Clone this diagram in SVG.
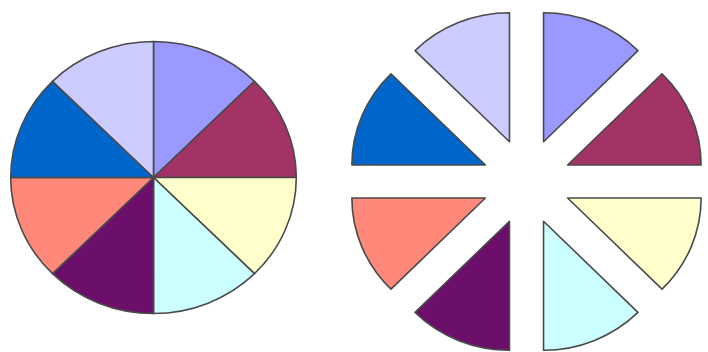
<svg xmlns="http://www.w3.org/2000/svg" width="708" height="352" viewBox="0 0 708 352">
  <style>
    .s { stroke: #4a4a4a; stroke-width: 1.6; stroke-linejoin: round; vector-effect: non-scaling-stroke; }
    .c0 { fill: #9999ff; }
    .c1 { fill: #a33366; }
    .c2 { fill: #ffffcc; }
    .c3 { fill: #ccffff; }
    .c4 { fill: #6b0f6b; }
    .c5 { fill: #ff887a; }
    .c6 { fill: #0066cc; }
    .c7 { fill: #ccccff; }
  </style>
  <rect width="708" height="352" fill="#ffffff"/>
  <g id="pie-whole" transform="translate(153.5,177.5) scale(1.05,1)">
    <path id="w0" class="s c0" d="M0,0 L0,-136 A136,136 0 0 1 96.17,-96.17 Z"/>
    <path id="w1" class="s c1" d="M0,0 L96.17,-96.17 A136,136 0 0 1 136,0 Z"/>
    <path id="w2" class="s c2" d="M0,0 L136,0 A136,136 0 0 1 96.17,96.17 Z"/>
    <path id="w3" class="s c3" d="M0,0 L96.17,96.17 A136,136 0 0 1 0,136 Z"/>
    <path id="w4" class="s c4" d="M0,0 L0,136 A136,136 0 0 1 -96.17,96.17 Z"/>
    <path id="w5" class="s c5" d="M0,0 L-96.17,96.17 A136,136 0 0 1 -136,0 Z"/>
    <path id="w6" class="s c6" d="M0,0 L-136,0 A136,136 0 0 1 -96.17,-96.17 Z"/>
    <path id="w7" class="s c7" d="M0,0 L-96.17,-96.17 A136,136 0 0 1 0,-136 Z"/>
  </g>
  <g id="pie-exploded" transform="translate(526.5,181.5) scale(1.035,1)">
    <g id="e0" transform="translate(16.46,-39.73)"><path class="s c0" d="M0,0 L0,-129 A129,129 0 0 1 91.22,-91.22 Z"/></g>
    <g id="e1" transform="translate(39.73,-16.46)"><path class="s c1" d="M0,0 L91.22,-91.22 A129,129 0 0 1 129,0 Z"/></g>
    <g id="e2" transform="translate(39.73,16.46)"><path class="s c2" d="M0,0 L129,0 A129,129 0 0 1 91.22,91.22 Z"/></g>
    <g id="e3" transform="translate(16.46,39.73)"><path class="s c3" d="M0,0 L91.22,91.22 A129,129 0 0 1 0,129 Z"/></g>
    <g id="e4" transform="translate(-16.46,39.73)"><path class="s c4" d="M0,0 L0,129 A129,129 0 0 1 -91.22,91.22 Z"/></g>
    <g id="e5" transform="translate(-39.73,16.46)"><path class="s c5" d="M0,0 L-91.22,91.22 A129,129 0 0 1 -129,0 Z"/></g>
    <g id="e6" transform="translate(-39.73,-16.46)"><path class="s c6" d="M0,0 L-129,0 A129,129 0 0 1 -91.22,-91.22 Z"/></g>
    <g id="e7" transform="translate(-16.46,-39.73)"><path class="s c7" d="M0,0 L-91.22,-91.22 A129,129 0 0 1 0,-129 Z"/></g>
  </g>
</svg>
